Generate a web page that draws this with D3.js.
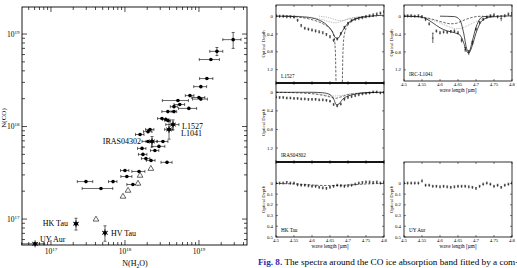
<!DOCTYPE html>
<html>
<head>
<meta charset="utf-8">
<script src="https://cdn.jsdelivr.net/npm/d3@7"></script>
<style>
body { margin: 0; background: #fff; }
svg { display: block; }
text { font-family: "Liberation Serif", "DejaVu Serif", serif; fill: #000; }
</style>
</head>
<body>
<svg id="fig" width="517" height="268"></svg>
<script>
// ---------- left panel : N(CO) against N(H2O) ----------
// [N(H2O), N(CO), error in N(H2O), error in N(CO)]
var detections = [
  [2.9e19, 8.7e18, 8e18, 1.7e18],
  [1.75e19, 6.5e18, 3.5e18, 6.5e17],
  [1.45e19, 5.3e18, 4.4e18, 0],
  [1.28e19, 3.3e18, 2.6e18, 0],
  [1.06e19, 2.7e18, 2.1e18, 0],
  [7.55e18, 2.16e18, 1e18, 0],
  [1.0e19, 2.06e18, 2e18, 0],
  [1.06e19, 1.98e18, 2.4e18, 0],
  [5.2e18, 1.91e18, 2e18, 0],
  [5.5e18, 1.73e18, 9e17, 0],
  [7.3e18, 1.57e18, 2e18, 0],
  [4.6e18, 1.64e18, 5e17, 0],
  [3.8e18, 1.45e18, 6.5e17, 0],
  [4.6e18, 1.45e18, 4e17, 0],
  [3.16e18, 1.22e18, 4e17, 0],
  [3.58e18, 1.19e18, 3.5e17, 0],
  [3.8e18, 1.16e18, 3.5e17, 0],
  [2.18e18, 9.3e17, 2.8e17, 0],
  [2.05e18, 8.8e17, 2.7e17, 0],
  [1.6e18, 8.2e17, 2.1e17, 0],
  [1.7e18, 5.8e17, 2.2e17, 0],
  [2.88e18, 6.1e17, 5.8e17, 0],
  [3.26e18, 6.9e17, 5.5e17, 0],
  [2.05e18, 6.9e17, 3.5e17, 0],
  [2.54e18, 5.5e17, 3.3e17, 0],
  [1.75e18, 5.0e17, 2.3e17, 0],
  [1.92e18, 4.5e17, 2.5e17, 0],
  [2.25e18, 4.3e17, 3e17, 0],
  [3.7e18, 4.1e17, 6.3e17, 0],
  [1.0e18, 3.35e17, 1.3e17, 0],
  [1.55e18, 3.27e17, 3.1e17, 0],
  [1.06e18, 2.88e17, 1.8e17, 0],
  [1.28e18, 2.36e17, 2.2e17, 0],
  [2.97e17, 2.54e17, 7e16, 0],
  [4.74e17, 2.14e17, 2.1e17, 0],
  [6.9e17, 2.54e17, 9e16, 0]
];
// open triangles [N(H2O), N(CO)]
var triangles = [
  [4.06e17, 9.9e16],
  [9.4e17, 1.75e17],
  [1.1e18, 2.03e17],
  [1.5e18, 2.42e17],
  [1.6e18, 2.95e17],
  [2.24e18, 3.5e17]
];
// named objects
var sourceNames = ["L1527", "L1041", "IRAS04302", "HK Tau", "HV Tau", "UY Aur"];
var sourceValues = [
  [4.46e18, 1.05e18, 9e17, 1.3e17],
  [3.94e18, 9.3e17, 5e17, 2e17],
  [2.32e18, 6.9e17, 4e17, 9e16],
  [2.18e17, 8.9e16, 1e16, 1.3e16],
  [5.37e17, 7.1e16, 1e16, 1.35e16],
  [6.1e16, 5.4e16, 2.1e16, 0]
];
var xTickExp = [17, 18, 19];
var yTickExp = [17, 18, 19];

// ---------- right panels : optical depth spectra ----------
var lambdaObs = [4.50, 4.51, 4.52, 4.53, 4.54, 4.55, 4.56, 4.57, 4.58, 4.59, 4.60,
  4.61, 4.62, 4.63, 4.64, 4.65, 4.66, 4.67, 4.68, 4.69, 4.70,
  4.71, 4.72, 4.73, 4.74, 4.75, 4.76, 4.77, 4.78, 4.79, 4.80];
var tauL1527 = [0.00, 0.01, 0.01, 0.02, 0.02, 0.03, 0.10, 0.22, 0.28, 0.30, 0.32,
  0.34, 0.36, 0.38, 0.42, 0.47, 0.55, 0.52, 0.40, 0.26, 0.17,
  0.11, 0.08, 0.06, 0.04, 0.02, 0.00, -0.02, -0.04, -0.06, -0.09];
var tauL1041 = [0.00, 0.00, 0.00, 0.01, 0.00, 0.02, 0.08, 0.18, 0.49, 0.34, 0.38,
  0.36, 0.37, 0.35, 0.34, 0.38, 0.55, 0.75, 0.82, 0.60, 0.30,
  0.15, 0.08, 0.03, 0.00, -0.02, 0.02, 0.05, 0.00, -0.04, -0.05];
var errL1041 = [0.03, 0.03, 0.03, 0.03, 0.03, 0.03, 0.03, 0.03, 0.11, 0.03, 0.03,
  0.03, 0.03, 0.03, 0.03, 0.03, 0.04, 0.05, 0.05, 0.04, 0.03,
  0.03, 0.03, 0.03, 0.03, 0.03, 0.03, 0.06, 0.03, 0.03, 0.03];
var tauIRAS = [0.11, 0.12, 0.12, 0.13, 0.13, 0.14, 0.14, 0.15, 0.15, 0.16, 0.16,
  0.16, 0.17, 0.17, 0.18, 0.20, 0.27, 0.30, 0.26, 0.16, 0.12,
  0.10, 0.08, 0.06, 0.04, 0.03, 0.02, 0.00, 0.00, 0.02, 0.01];
var tauHKTau = [0.00, 0.00, 0.00, -0.005, 0.00, 0.00, 0.015, 0.02, 0.02, 0.025, 0.03,
  0.03, 0.04, 0.045, 0.05, 0.04, 0.03, 0.02, 0.025, 0.03, 0.025,
  0.02, 0.01, 0.00, -0.005, -0.01, -0.01, -0.005, -0.01, 0.00, -0.01];
var tauUYAur = [0.00, 0.00, 0.00, 0.00, 0.00, -0.02, 0.02, 0.02, 0.03, 0.03, 0.035,
  0.03, 0.035, 0.04, 0.035, 0.03, 0.03, 0.03, 0.035, 0.04, 0.05,
  0.03, 0.01, 0.00, 0.01, 0.03, 0.02, 0.04, 0.02, 0.01, 0.00];

// fitted profiles [lambda, tau]
var fitL1527 = [[4.50, 0], [4.55, 0.005], [4.58, 0.02], [4.60, 0.04], [4.62, 0.09], [4.64, 0.19],
  [4.655, 0.33], [4.665, 0.48], [4.672, 0.50], [4.68, 0.40], [4.69, 0.26], [4.70, 0.16],
  [4.72, 0.06], [4.74, 0.02], [4.76, 0.0], [4.80, -0.02]];
var dashL1527 = [[4.52, 0], [4.56, 0.02], [4.60, 0.08], [4.63, 0.17], [4.65, 0.28], [4.66, 0.40],
  [4.665, 0.8], [4.667, 1.6], [4.675, 3.0], [4.684, 1.6], [4.686, 0.8], [4.69, 0.40],
  [4.70, 0.2], [4.72, 0.07], [4.75, 0.02], [4.78, 0]];
var dotL1527a = [[4.55, 0], [4.60, 0.03], [4.63, 0.08], [4.65, 0.13], [4.665, 0.15], [4.68, 0.12],
  [4.70, 0.06], [4.73, 0.02], [4.76, 0]];
var dotL1527b = [[4.62, 0], [4.65, 0.04], [4.67, 0.09], [4.685, 0.10], [4.70, 0.07], [4.72, 0.03], [4.75, 0]];

var fitL1041 = [[4.50, 0], [4.54, 0.01], [4.56, 0.05], [4.58, 0.15], [4.60, 0.26], [4.62, 0.33],
  [4.64, 0.37], [4.655, 0.42], [4.665, 0.58], [4.675, 0.80], [4.68, 0.82], [4.69, 0.65],
  [4.70, 0.38], [4.71, 0.18], [4.72, 0.08], [4.74, 0.02], [4.77, 0], [4.80, -0.01]];
var coreL1041 = [[4.60, 0], [4.64, 0.01], [4.655, 0.08], [4.665, 0.35], [4.675, 0.75], [4.68, 0.80],
  [4.69, 0.55], [4.70, 0.25], [4.71, 0.07], [4.72, 0.01], [4.75, 0]];
var dashL1041 = [[4.50, 0], [4.55, 0.02], [4.58, 0.07], [4.61, 0.14], [4.63, 0.17], [4.645, 0.16],
  [4.66, 0.11], [4.68, 0.05], [4.70, 0.01], [4.72, 0]];
var dotL1041 = [[4.52, 0], [4.56, 0.04], [4.59, 0.12], [4.62, 0.22], [4.645, 0.28], [4.66, 0.27],
  [4.68, 0.2], [4.70, 0.12], [4.72, 0.06], [4.75, 0.02], [4.80, 0]];

var fitIRAS = [[4.50, 0], [4.60, 0], [4.63, 0.01], [4.65, 0.05], [4.66, 0.14], [4.668, 0.27],
  [4.675, 0.25], [4.685, 0.15], [4.70, 0.08], [4.72, 0.04], [4.75, 0.01], [4.80, 0]];
var dashIRAS = [[4.50, 0], [4.58, 0.02], [4.62, 0.05], [4.65, 0.10], [4.665, 0.13], [4.68, 0.10],
  [4.70, 0.05], [4.73, 0.02], [4.78, 0]];
var dotIRAS = [[4.55, 0], [4.60, 0.02], [4.63, 0.05], [4.655, 0.08], [4.68, 0.07], [4.71, 0.03], [4.75, 0]];
var dashHKTau = [[4.50, 0], [4.55, 0.005], [4.60, 0.015], [4.65, 0.02], [4.70, 0.015], [4.75, 0.005], [4.80, 0]];

var lambdaTicks = [4.5, 4.55, 4.6, 4.65, 4.7, 4.75, 4.8];
var depthTicksBand = [0, 0.4, 0.8, 1.2];
var depthTicksFlat = [0, 0.1, 0.2, 0.3, 0.4, 0.5];

var svg = d3.select("#fig");

// ================= scatter =================
var x = d3.scaleLog().domain([4.06e16, 4.46e19]).range([22, 247]);
var y = d3.scaleLog().domain([5.24e16, 1.96e19]).range([245, 7]);
var left = svg.append("g");

left.append("rect").attr("x", 22).attr("y", 7).attr("width", 225).attr("height", 238)
  .attr("fill", "none").attr("stroke", "#000").attr("stroke-width", 0.9);

// log ticks, pointing inward on all four sides
function logTicks(lo, hi) {
  var t = [];
  for (var e = Math.floor(Math.log10(lo)); e <= Math.ceil(Math.log10(hi)); e++) {
    for (var m = 1; m < 10; m++) {
      var v = m * Math.pow(10, e);
      if (v >= lo && v <= hi) t.push({ v: v, major: m === 1 });
    }
  }
  return t;
}
var tk = left.append("g").attr("stroke", "#000").attr("stroke-width", 0.7);
logTicks(x.domain()[0], x.domain()[1]).forEach(function(t) {
  var L = t.major ? 5 : 3;
  tk.append("line").attr("x1", x(t.v)).attr("x2", x(t.v)).attr("y1", 245).attr("y2", 245 - L);
  tk.append("line").attr("x1", x(t.v)).attr("x2", x(t.v)).attr("y1", 7).attr("y2", 7 + L);
});
logTicks(y.domain()[0], y.domain()[1]).forEach(function(t) {
  var L = t.major ? 5 : 3;
  tk.append("line").attr("y1", y(t.v)).attr("y2", y(t.v)).attr("x1", 22).attr("x2", 22 + L);
  tk.append("line").attr("y1", y(t.v)).attr("y2", y(t.v)).attr("x1", 247).attr("x2", 247 - L);
});

xTickExp.forEach(function(e) {
  var t = left.append("text").attr("x", x(Math.pow(10, e))).attr("y", 254)
    .attr("text-anchor", "middle").attr("font-size", 7.5).text("10");
  t.append("tspan").attr("dy", -3).attr("font-size", 5).text(e);
});
yTickExp.forEach(function(e) {
  var t = left.append("text").attr("x", 19.5).attr("y", y(Math.pow(10, e)) + 2.5)
    .attr("text-anchor", "end").attr("font-size", 7.5).text("10");
  t.append("tspan").attr("dy", -3).attr("font-size", 5).text(e);
});

var xl = left.append("text").attr("x", 135).attr("y", 266).attr("text-anchor", "middle")
  .attr("font-size", 8).text("N(H");
xl.append("tspan").attr("dy", 2).attr("font-size", 5.5).text("2");
xl.append("tspan").attr("dy", -2).text("O)");
// axis title sits at the very edge of the figure, as in the original page crop
left.append("text").attr("transform", "translate(5.5,118) rotate(-90)")
  .attr("text-anchor", "middle").attr("font-size", 7).text("N(CO)");

// error bars
function errBars(g, rows, cap) {
  rows.forEach(function(d) {
    if (d[2] > 0) {
      var x0 = x(Math.max(d[0] - d[2], 1e15)), x1 = x(d[0] + d[2]);
      g.append("line").attr("x1", x0).attr("x2", x1).attr("y1", y(d[1])).attr("y2", y(d[1]));
      g.append("line").attr("x1", x0).attr("x2", x0).attr("y1", y(d[1]) - cap).attr("y2", y(d[1]) + cap);
      g.append("line").attr("x1", x1).attr("x2", x1).attr("y1", y(d[1]) - cap).attr("y2", y(d[1]) + cap);
    }
    if (d[3] > 0) {
      var y0 = y(d[1] - d[3]), y1 = y(d[1] + d[3]);
      g.append("line").attr("x1", x(d[0])).attr("x2", x(d[0])).attr("y1", y0).attr("y2", y1);
      g.append("line").attr("x1", x(d[0]) - cap).attr("x2", x(d[0]) + cap).attr("y1", y0).attr("y2", y0);
      g.append("line").attr("x1", x(d[0]) - cap).attr("x2", x(d[0]) + cap).attr("y1", y1).attr("y2", y1);
    }
  });
}
var eg = left.append("g").attr("stroke", "#000").attr("stroke-width", 0.6);
errBars(eg, detections, 1.5);
errBars(eg, sourceValues, 1.5);

left.append("g").selectAll("circle").data(detections).enter().append("circle")
  .attr("cx", function(d) { return x(d[0]); })
  .attr("cy", function(d) { return y(d[1]); })
  .attr("r", 1.8).attr("fill", "#000");

var tri = d3.symbol().type(d3.symbolTriangle).size(14);
left.append("g").selectAll("path").data(triangles).enter().append("path")
  .attr("d", tri)
  .attr("transform", function(d) { return "translate(" + x(d[0]) + "," + y(d[1]) + ")"; })
  .attr("fill", "#fff").attr("stroke", "#000").attr("stroke-width", 0.6);

// asterisk markers for the named objects
var star = left.append("g").attr("stroke", "#000").attr("stroke-width", 0.8);
sourceValues.forEach(function(d) {
  var cx = x(d[0]), cy = y(d[1]);
  [0, 60, 120].forEach(function(a) {
    var r = a * Math.PI / 180;
    star.append("line").attr("x1", cx - 3.5 * Math.sin(r)).attr("x2", cx + 3.5 * Math.sin(r))
      .attr("y1", cy - 3.5 * Math.cos(r)).attr("y2", cy + 3.5 * Math.cos(r));
  });
  star.append("circle").attr("cx", cx).attr("cy", cy).attr("r", 1.6).attr("fill", "#000");
});
var labelPlace = [[9, 4, "start"], [12, 7, "start"], [-11, 3, "end"], [-8, 2, "end"], [6, 3, "start"], [5, -2, "start"]];
sourceNames.forEach(function(n, i) {
  left.append("text").attr("x", x(sourceValues[i][0]) + labelPlace[i][0])
    .attr("y", y(sourceValues[i][1]) + labelPlace[i][1])
    .attr("text-anchor", labelPlace[i][2]).attr("font-size", 8).text(n);
});

// ================= spectra =================
var panels = [
  { name: "L1527", x0: 276, x1: 384, y0: 5, y1: 83, dom: [-0.25, 1.5], ticks: depthTicksBand, xlab: false,
    tau: tauL1527, err: null, errDefault: 0.03,
    lines: [[fitL1527, "solid"], [dashL1527, "dash"], [dotL1527a, "dot"], [dotL1527b, "dot"]] },
  { name: "IRC-L1041", x0: 404, x1: 512, y0: 5, y1: 81, dom: [-0.25, 1.45], ticks: depthTicksBand, xlab: true,
    tau: tauL1041, err: errL1041, errDefault: 0.03,
    lines: [[fitL1041, "solid"], [coreL1041, "solid"], [dashL1041, "dash"], [dotL1041, "dot"]] },
  { name: "IRAS04302", x0: 276, x1: 384, y0: 83, y1: 162, dom: [-0.2, 1.5], ticks: depthTicksBand, xlab: false,
    tau: tauIRAS, err: null, errDefault: 0.025,
    lines: [[fitIRAS, "solid"], [dashIRAS, "dash"], [dotIRAS, "dot"]] },
  { name: "HK Tau", x0: 276, x1: 384, y0: 162, y1: 237, dom: [-0.2, 0.5], ticks: depthTicksFlat, xlab: true,
    tau: tauHKTau, err: null, errDefault: 0.012,
    lines: [[dashHKTau, "dash"]] },
  { name: "UY Aur", x0: 404, x1: 512, y0: 162, y1: 237, dom: [-0.2, 0.5], ticks: depthTicksFlat, xlab: true,
    tau: tauUYAur, err: null, errDefault: 0.012,
    lines: [] }
];

var tiny = 4.8;
panels.forEach(function(p, pi) {
  var g = svg.append("g");
  var px = d3.scaleLinear().domain([4.5, 4.8]).range([p.x0, p.x1]);
  var py = d3.scaleLinear().domain(p.dom).range([p.y0, p.y1]);

  g.append("clipPath").attr("id", "clip" + pi).append("rect")
    .attr("x", p.x0).attr("y", p.y0).attr("width", p.x1 - p.x0).attr("height", p.y1 - p.y0);

  g.append("rect").attr("x", p.x0).attr("y", p.y0).attr("width", p.x1 - p.x0).attr("height", p.y1 - p.y0)
    .attr("fill", "none").attr("stroke", "#000").attr("stroke-width", 0.8);
  if (!p.xlab) {
    g.append("line").attr("x1", p.x0).attr("x2", p.x1).attr("y1", p.y1).attr("y2", p.y1)
      .attr("stroke", "#000").attr("stroke-width", 1.6);
  }

  var tg = g.append("g").attr("stroke", "#000").attr("stroke-width", 0.5);
  lambdaTicks.forEach(function(l) {
    tg.append("line").attr("x1", px(l)).attr("x2", px(l)).attr("y1", p.y1).attr("y2", p.y1 - 2);
    tg.append("line").attr("x1", px(l)).attr("x2", px(l)).attr("y1", p.y0).attr("y2", p.y0 + 2);
  });
  p.ticks.forEach(function(t) {
    tg.append("line").attr("x1", p.x0).attr("x2", p.x0 + 2).attr("y1", py(t)).attr("y2", py(t));
    tg.append("line").attr("x1", p.x1).attr("x2", p.x1 - 2).attr("y1", py(t)).attr("y2", py(t));
    g.append("text").attr("x", p.x0 - 3).attr("y", py(t) + 1.6).attr("text-anchor", "end")
      .attr("font-size", tiny).text(t);
  });
  if (p.xlab) {
    lambdaTicks.forEach(function(l) {
      g.append("text").attr("x", px(l)).attr("y", p.y1 + 5).attr("text-anchor", "middle")
        .attr("font-size", tiny).text(l);
    });
    g.append("text").attr("x", (p.x0 + p.x1) / 2).attr("y", p.y1 + 11).attr("text-anchor", "middle")
      .attr("font-size", tiny + 0.4).text("wave length [\u00b5m]");
  }
  g.append("text")
    .attr("transform", "translate(" + (p.x0 - 11) + "," + ((p.y0 + p.y1) / 2) + ") rotate(-90)")
    .attr("text-anchor", "middle").attr("font-size", tiny).text("Optical Depth");
  g.append("text").attr("x", p.x0 + 5).attr("y", p.y1 - 5).attr("font-size", tiny + 0.4).text(p.name);

  var cg = g.append("g").attr("clip-path", "url(#clip" + pi + ")");
  var line = d3.line().x(function(d) { return px(d[0]); }).y(function(d) { return py(d[1]); })
    .curve(d3.curveMonotoneX);
  p.lines.forEach(function(l) {
    var path = cg.append("path").attr("d", line(l[0])).attr("fill", "none");
    if (l[1] === "solid") path.attr("stroke", "#000").attr("stroke-width", 0.7);
    if (l[1] === "dash") path.attr("stroke", "#000").attr("stroke-width", 0.6).attr("stroke-dasharray", "2.5,1.5");
    if (l[1] === "dot") path.attr("stroke", "#777").attr("stroke-width", 0.6).attr("stroke-dasharray", "0.8,1");
  });

  var og = cg.append("g").attr("stroke", "#000").attr("stroke-width", 0.6);
  lambdaObs.forEach(function(l, i) {
    var e = p.err ? p.err[i] : p.errDefault;
    var t = p.tau[i];
    og.append("line").attr("x1", px(l)).attr("x2", px(l)).attr("y1", py(t - e)).attr("y2", py(t + e));
    og.append("line").attr("x1", px(l) - 0.9).attr("x2", px(l) + 0.9).attr("y1", py(t - e)).attr("y2", py(t - e));
    og.append("line").attr("x1", px(l) - 0.9).attr("x2", px(l) + 0.9).attr("y1", py(t)).attr("y2", py(t));
  });
});

// caption
var cap = svg.append("text").attr("x", 258).attr("y", 265).attr("font-size", 9.2);
cap.append("tspan").attr("fill", "#2b2bb0").attr("font-weight", "bold").text("Fig. 8.");
cap.append("tspan").text(" The spectra around the CO ice absorption band fitted by a com-");
</script>
</body>
</html>
